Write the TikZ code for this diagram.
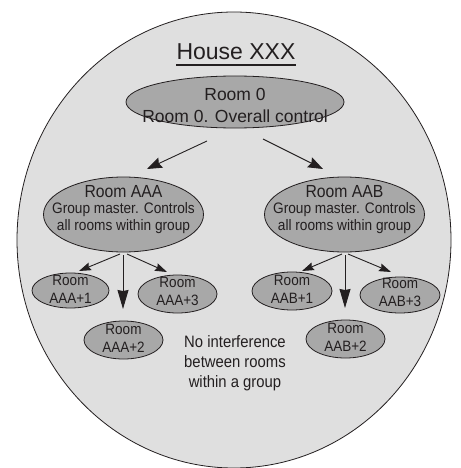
\documentclass[tikz,border=0pt]{standalone}
\usepackage{fontspec}
\setmainfont{Liberation Sans}
\newfontfamily\narrowf{Liberation Sans}[FakeStretch=0.9]
\usetikzlibrary{shapes.geometric,arrows.meta}
\definecolor{bggray}{HTML}{DFDFDF}
\definecolor{nodegray}{HTML}{A8A8A8}
\definecolor{inkc}{HTML}{231F20}
\tikzset{
  room/.style={ellipse, draw=inkc, fill=nodegray, line width=0.8pt, inner sep=0pt},
  txt/.style={text=inkc, align=center, inner sep=0pt},
  bigarr/.style={draw=inkc, line width=0.9pt, -{Stealth[length=15pt,width=11pt,inset=2pt]}},
  smallarr/.style={draw=inkc, line width=0.9pt, -{Stealth[length=12pt,width=8pt,inset=1.5pt]}},
  downarr/.style={draw=inkc, line width=0.9pt, -{Stealth[length=19pt,width=11pt,inset=1pt]}},
  fbig/.style={font=\fontsize{17.5}{22.5}\selectfont},
  fmid/.style={font=\narrowf\fontsize{15.2}{16.8}\selectfont},
  fsmall/.style={font=\narrowf\fontsize{15}{18}\selectfont},
}
\begin{document}
\begin{tikzpicture}[x=1pt,y=-1pt]
\useasboundingbox (0,0) rectangle (460,468);
% house outline
\node[ellipse, draw=inkc, fill=bggray, line width=0.8pt, inner sep=0pt,
      minimum width=434pt, minimum height=456pt] (hse) at (234,240) {};
\node[txt, anchor=base, font=\fontsize{23}{27}\selectfont] (title) at (236,60) {House XXX};
\draw[inkc, line width=1.3pt] ([yshift=-5pt]title.base west) -- ([yshift=-5pt]title.base east);

% room 0
\node[room, minimum width=218pt, minimum height=52pt] (r0) at (235,102) {};
\node[txt, fbig] (r0t) at (235,105.5) {Room 0\\Room 0. Overall control};

% group masters
\node[room, minimum width=160pt, minimum height=75pt] (aaa) at (123.5,214.5) {};
\node[txt, fmid] (aaat) at (123.5,209.5) {{\fontsize{17.5}{20}\selectfont Room AAA}\\Group master. Controls\\all rooms within group};
\node[room, minimum width=160pt, minimum height=75pt] (aab) at (344.5,214.5) {};
\node[txt, fmid] (aabt) at (344.5,209.5) {{\fontsize{17.5}{20}\selectfont Room AAB}\\Group master. Controls\\all rooms within group};

% small rooms AAA
\node[room, minimum width=77pt, minimum height=35pt] (a1) at (70.5,290.5) {};
\node[txt, fsmall] (a1t) at (70.5,289) {Room\\AAA+1};
\node[room, minimum width=79pt, minimum height=38pt] (a3) at (177.5,294) {};
\node[txt, fsmall] (a3t) at (177.5,291.5) {Room\\AAA+3};
\node[room, minimum width=79pt, minimum height=38pt] (a2) at (123.5,340) {};
\node[txt, fsmall] (a2t) at (123.5,338) {Room\\AAA+2};

% small rooms AAB
\node[room, minimum width=80pt, minimum height=38pt] (b1) at (292,291) {};
\node[txt, fsmall] (b1t) at (292,289) {Room\\AAB+1};
\node[room, minimum width=80pt, minimum height=36pt] (b3) at (400,295) {};
\node[txt, fsmall] (b3t) at (400,292.5) {Room\\AAB+3};
\node[room, minimum width=79pt, minimum height=38pt] (b2) at (345.5,339) {};
\node[txt, fsmall] (b2t) at (345.5,337) {Room\\AAB+2};

% note
\node[txt, font=\narrowf\fontsize{16.5}{20}\selectfont] (note) at (235,363) {No interference\\between rooms\\within a group};

% arrows from room 0
\coordinate (r0l) at (207,141); \coordinate (aaain) at (147,169);
\coordinate (r0r) at (263,139); \coordinate (aabin) at (323,169);
\draw[bigarr] (r0l) -- (aaain);
\draw[bigarr] (r0r) -- (aabin);

% arrows from AAA
\coordinate (aaal) at (120,254); \coordinate (a1in) at (79,271);
\coordinate (aaam) at (123,255); \coordinate (a2in) at (123,309);
\coordinate (aaar) at (127,254); \coordinate (a3in) at (167,272);
\draw[smallarr] (aaal) -- (a1in);
\draw[downarr] (aaam) -- (a2in);
\draw[smallarr] (aaar) -- (a3in);

% arrows from AAB
\coordinate (aabl) at (342,254); \coordinate (b1in) at (302,271);
\coordinate (aabm) at (345,255); \coordinate (b2in) at (345,308);
\coordinate (aabr) at (348,254); \coordinate (b3in) at (391,272);
\draw[smallarr] (aabl) -- (b1in);
\draw[downarr] (aabm) -- (b2in);
\draw[smallarr] (aabr) -- (b3in);
\end{tikzpicture}
\end{document}
